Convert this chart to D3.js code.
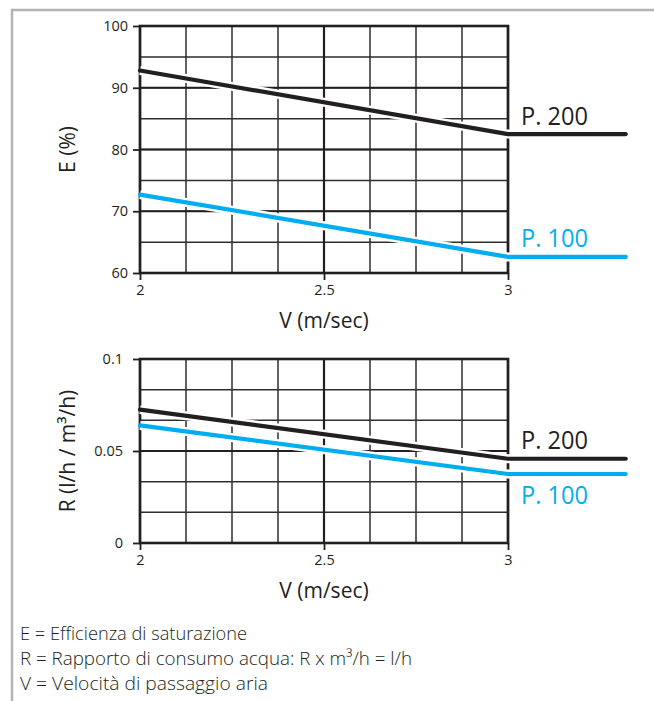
<!DOCTYPE html>
<html>
<head>
  <meta charset="utf-8">
  <title>Efficienza e rapporto di consumo</title>
  <script src="https://cdn.jsdelivr.net/npm/d3@7"></script>
  <style>
    body { margin: 0; background: #fff; }
    svg { display: block; font-family: "Open Sans", sans-serif; }
  </style>
</head>
<body>
<script>
  // Dati
  const velocity = [2, 3, 3.32];          // ultimo punto = prolungamento orizzontale
  const effP200 = [92.8, 82.5, 82.5];
  const effP100 = [72.7, 62.6, 62.6];
  const ratioP200 = [0.0725, 0.0458, 0.0458];
  const ratioP100 = [0.0639, 0.0375, 0.0375];

  const xTicks = [2, 2.5, 3];
  const eTicks = [60, 70, 80, 90, 100];
  const rTicks = [0, 0.05, 0.1];
  const rTickLabels = ["0", "0.05", "0.1"];

  const legendNotes = [
    "E = Efficienza di saturazione",
    "R = Rapporto di consumo acqua: R x m³/h = l/h",
    "V = Velocità di passaggio aria"
  ];

  const dark = "#231f20";
  const blue = "#00aeef";

  const w = 654, h = 701;
  const svg = d3.select("body").append("svg")
    .attr("width", w)
    .attr("height", h);

  // cornice grigia
  svg.append("path")
    .attr("d", "M654,10 H12 V701")
    .attr("fill", "none")
    .attr("stroke", "#b3b3b3")
    .attr("stroke-width", 2.5);

  const left = 140, right = 508;

  function panel(opt) {
    const x = d3.scaleLinear().domain([2, 3]).range([left, right]);
    const y = d3.scaleLinear().domain(opt.domain).range([opt.bottom, opt.top]);
    const g = svg.append("g");

    // griglia minore
    const xMinor = d3.range(2, 3.0001, 0.125);
    const yMinor = d3.range(opt.domain[0], opt.domain[1] + opt.minor / 2, opt.minor);

    g.selectAll("line.vx")
      .data(xMinor)
      .enter().append("line")
      .attr("class", "vx")
      .attr("x1", d => x(d)).attr("x2", d => x(d))
      .attr("y1", opt.top).attr("y2", opt.bottom)
      .attr("stroke", "#2e2e2e").attr("stroke-width", 1.5);

    g.selectAll("line.hy")
      .data(yMinor)
      .enter().append("line")
      .attr("class", "hy")
      .attr("x1", left).attr("x2", right)
      .attr("y1", d => y(d)).attr("y2", d => y(d))
      .attr("stroke", "#2e2e2e").attr("stroke-width", 1.5);

    // griglia principale
    g.selectAll("line.mx")
      .data(xTicks)
      .enter().append("line")
      .attr("class", "mx")
      .attr("x1", d => x(d)).attr("x2", d => x(d))
      .attr("y1", opt.top).attr("y2", opt.bottom)
      .attr("stroke", dark).attr("stroke-width", 2.2);

    g.selectAll("line.my")
      .data(opt.ticks)
      .enter().append("line")
      .attr("class", "my")
      .attr("x1", left).attr("x2", right)
      .attr("y1", d => y(d)).attr("y2", d => y(d))
      .attr("stroke", dark).attr("stroke-width", 2.2);

    // bordo
    g.append("rect")
      .attr("x", left).attr("y", opt.top)
      .attr("width", right - left).attr("height", opt.bottom - opt.top)
      .attr("fill", "none").attr("stroke", dark).attr("stroke-width", 2.6);

    // assi
    const xAxis = d3.axisBottom(x).tickValues(xTicks).tickSize(7).tickPadding(5)
      .tickFormat(d3.format(""));
    const yAxis = d3.axisLeft(y).tickValues(opt.ticks).tickSize(7).tickPadding(opt.pad)
      .tickFormat((d, i) => opt.labels[i]);

    const gx = g.append("g").attr("transform", `translate(0,${opt.bottom})`).call(xAxis);
    const gy = g.append("g").attr("transform", `translate(${left},0)`).call(yAxis);
    [gx, gy].forEach(a => {
      a.attr("font-size", null).attr("font-family", null);
      a.select(".domain").remove();
      a.selectAll(".tick line").attr("stroke", dark).attr("stroke-width", 1.8);
      a.selectAll(".tick text")
        .attr("fill", dark)
        .style("font-size", "14.5px")
        .style("font-family", "'Open Sans', sans-serif");
    });

    // titoli assi
    g.append("text")
      .attr("x", x(2.5)).attr("y", opt.bottom + 55)
      .attr("text-anchor", "middle")
      .attr("font-size", "21px").attr("fill", dark)
      .text("V (m/sec)");

    g.append("text")
      .attr("transform", `translate(75,${(opt.top + opt.bottom) / 2}) rotate(-90)`)
      .attr("text-anchor", "middle")
      .attr("font-size", "21px").attr("fill", dark)
      .text(opt.title);

    // curve
    const line = d3.line()
      .x((d, i) => x(velocity[i]))
      .y(d => y(d));

    opt.series.forEach(s => {
      g.append("path")
        .attr("d", line(s.values))
        .attr("fill", "none").attr("stroke", "#fff").attr("stroke-width", 9);
      g.append("path")
        .attr("d", line(s.values))
        .attr("fill", "none").attr("stroke", s.color).attr("stroke-width", 4.2)
        .attr("stroke-linecap", "round").attr("stroke-linejoin", "round");
      g.append("text")
        .attr("x", 521)
        .attr("y", y(s.values[2]) + s.dy)
        .attr("font-size", "25px").attr("fill", s.color)
        .attr("textLength", 67).attr("lengthAdjust", "spacingAndGlyphs")
        .text(s.name);
    });
  }

  panel({
    top: 26, bottom: 273,
    domain: [60, 100], minor: 5,
    ticks: eTicks, labels: eTicks.map(String),
    pad: 5,
    title: "E (%)",
    series: [
      { name: "P. 200", values: effP200, color: dark, dy: -9 },
      { name: "P. 100", values: effP100, color: blue, dy: -10 }
    ]
  });

  panel({
    top: 359, bottom: 543,
    domain: [0, 0.1], minor: 0.1 / 6,
    ticks: rTicks, labels: rTickLabels,
    pad: 10,
    title: "R (l/h / m³/h)",
    series: [
      { name: "P. 200", values: ratioP200, color: dark, dy: -10 },
      { name: "P. 100", values: ratioP100, color: blue, dy: 30 }
    ]
  });

  // note in basso
  svg.selectAll("text.note")
    .data(legendNotes)
    .enter().append("text")
    .attr("class", "note")
    .attr("x", 20)
    .attr("y", (d, i) => 640 + i * 25)
    .attr("font-size", "19px")
    .attr("font-weight", 300)
    .attr("fill", dark)
    .attr("textLength", (d, i) => [227, 392, 248][i])
    .attr("lengthAdjust", "spacingAndGlyphs")
    .text(d => d);
</script>
</body>
</html>
